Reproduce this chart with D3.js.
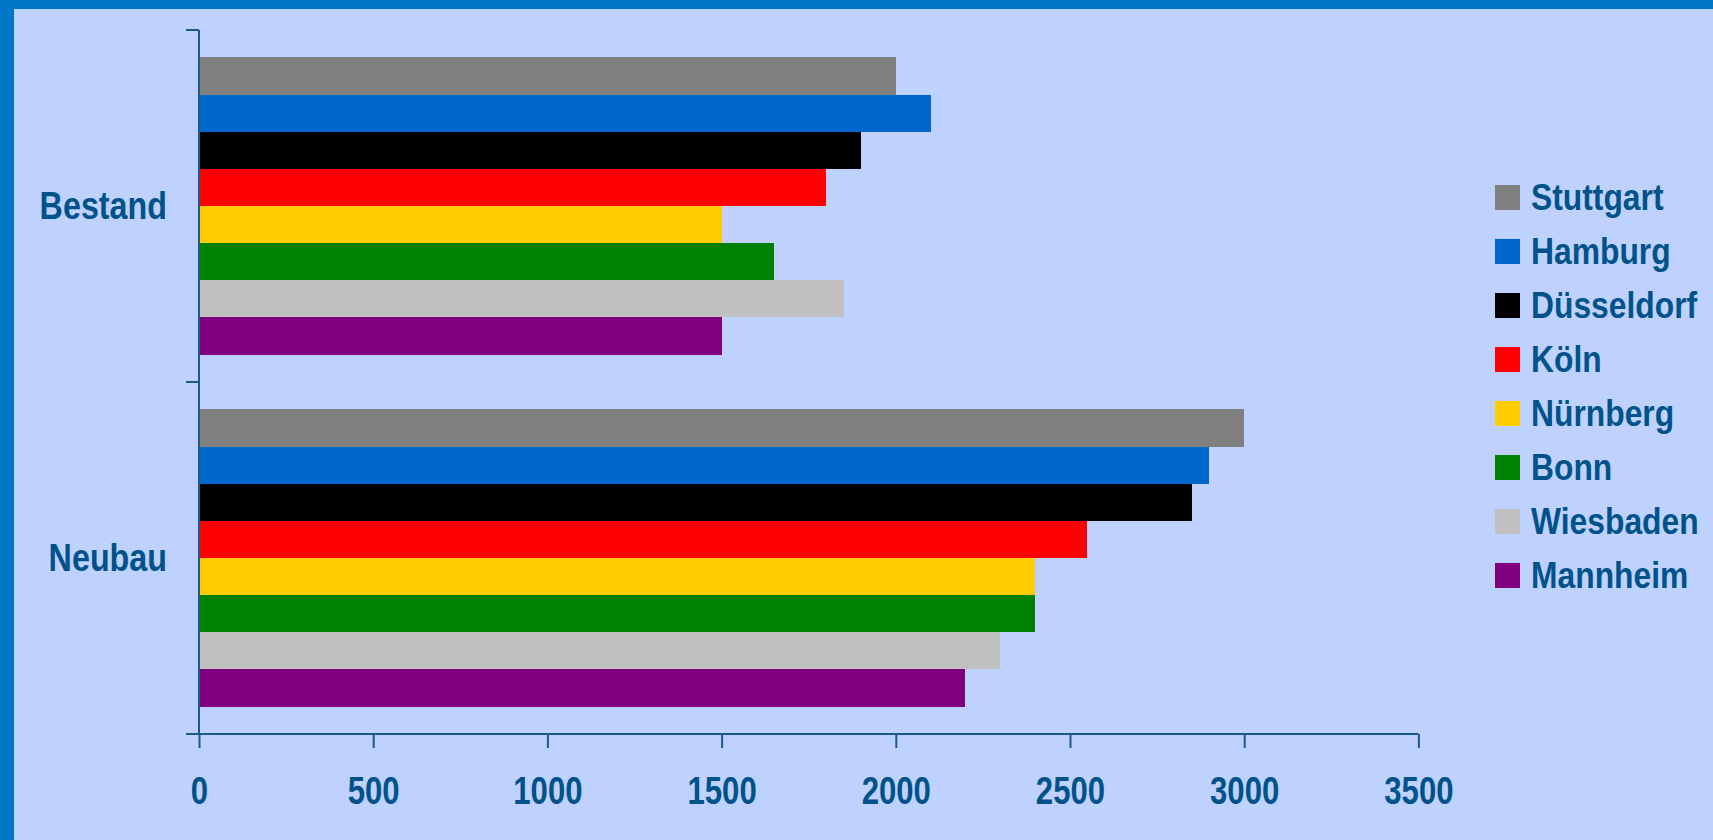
<!DOCTYPE html>
<html>
<head>
<meta charset="utf-8">
<script src="https://cdn.jsdelivr.net/npm/d3@7"></script>
<style>
  html, body { margin: 0; padding: 0; background: #bfd2ff; }
  svg { display: block; }
  text { font-family: "Liberation Sans", Arial, sans-serif; font-weight: bold; fill: #00538a; }
</style>
</head>
<body>
<script>
var categories = ["Bestand", "Neubau"];
var cities = ["Stuttgart", "Hamburg", "Düsseldorf", "Köln", "Nürnberg", "Bonn", "Wiesbaden", "Mannheim"];
var colors = ["#808080", "#0066cc", "#000000", "#ff0000", "#ffcc00", "#008000", "#c0c0c0", "#800080"];
var bestand = [2000, 2100, 1900, 1800, 1500, 1650, 1850, 1500];
var neubau = [3000, 2900, 2850, 2550, 2400, 2400, 2300, 2200];
var xTicks = [0, 500, 1000, 1500, 2000, 2500, 3000, 3500];

var W = 1713, H = 840;
var axisColor = "#1b5a8e";
var narrow = "scale(0.82,1)"; // fake Arial Narrow

var svg = d3.select("body").append("svg")
	.attr("width", W)
	.attr("height", H);

svg.append("rect").attr("width", W).attr("height", H).attr("fill", "#bfd2ff");
// blue frame on top and left
svg.append("rect").attr("x", 0).attr("y", 0).attr("width", W).attr("height", 9).attr("fill", "#0078c8");
svg.append("rect").attr("x", 0).attr("y", 0).attr("width", 14).attr("height", H).attr("fill", "#0078c8");

var x = d3.scaleLinear().domain([0, 3500]).range([199, 1418.4]);
var y0 = d3.scaleBand().domain(categories).range([30, 734]);
var y1 = d3.scaleBand().domain(cities).range([0, y0.bandwidth()]).paddingOuter(0.74);

var rows = [];
categories.forEach(function(c, ci) {
	var vals = ci === 0 ? bestand : neubau;
	cities.forEach(function(city, i) {
		rows.push({cat: c, city: city, value: vals[i], color: colors[i]});
	});
});

svg.selectAll("rect.bar")
	.data(rows)
	.enter()
	.append("rect")
	.attr("class", "bar")
	.attr("x", x(0))
	.attr("y", function(d){ return y0(d.cat) + y1(d.city); })
	.attr("width", function(d){ return x(d.value) - x(0); })
	.attr("height", y1.bandwidth())
	.attr("fill", function(d){ return d.color; })
	.attr("shape-rendering", "crispEdges");

// x axis
var xAxis = svg.append("g")
	.attr("transform", "translate(0,734)")
	.call(d3.axisBottom(x).tickValues(xTicks).tickFormat(d3.format("d"))
		.tickSizeInner(14).tickSizeOuter(0).tickPadding(29));
xAxis.select(".domain").remove();
xAxis.selectAll(".tick line").attr("stroke", axisColor).attr("stroke-width", 2);
xAxis.selectAll(".tick text")
	.attr("fill", "#00538a")
	.attr("transform", narrow)
	.style("font-size", "38px");
svg.append("line")
	.attr("x1", 186).attr("x2", x(3500))
	.attr("y1", 734).attr("y2", 734)
	.attr("stroke", axisColor).attr("stroke-width", 2);

// y axis with ticks between categories
svg.append("line")
	.attr("x1", 199).attr("x2", 199)
	.attr("y1", 30).attr("y2", 734)
	.attr("stroke", axisColor).attr("stroke-width", 2);
var bounds = categories.map(function(c){ return y0(c); }).concat([y0.range()[1]]);
svg.selectAll("line.ytick")
	.data(bounds)
	.enter()
	.append("line")
	.attr("class", "ytick")
	.attr("x1", 186).attr("x2", 199)
	.attr("y1", function(d){ return d; })
	.attr("y2", function(d){ return d; })
	.attr("stroke", axisColor).attr("stroke-width", 2);

svg.selectAll("text.cat")
	.data(categories)
	.enter()
	.append("text")
	.attr("class", "cat")
	.attr("transform", function(d){ return "translate(167," + (y0(d) + y0.bandwidth() / 2) + ") scale(0.85,1)"; })
	.attr("dy", "0.35em")
	.attr("text-anchor", "end")
	.style("font-size", "38px")
	.text(function(d){ return d; });

// legend
var legend = svg.selectAll("g.legend")
	.data(cities)
	.enter()
	.append("g")
	.attr("class", "legend")
	.attr("transform", function(d, i){ return "translate(1495," + (185 + i * 54) + ")"; });
legend.append("rect")
	.attr("width", 25).attr("height", 25)
	.attr("fill", function(d, i){ return colors[i]; })
	.attr("shape-rendering", "crispEdges");
legend.append("text")
	.attr("transform", "translate(36,25) scale(0.86,1)")
	.style("font-size", "37px")
	.text(function(d){ return d; });
</script>
</body>
</html>
